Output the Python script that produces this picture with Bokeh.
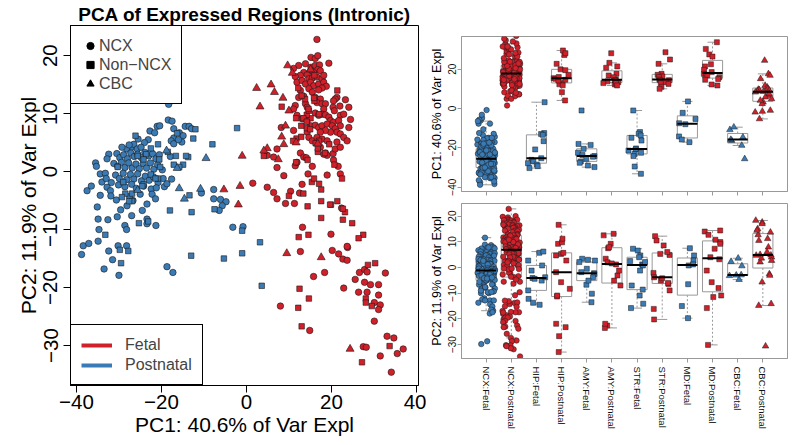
import numpy as np
from bokeh.plotting import figure
from bokeh.layouts import row, column
from bokeh.models import Range1d, FixedTicker, Legend, LegendItem, ColumnDataSource
from bokeh.transform import jitter
from bokeh.embed import file_html
from bokeh.resources import INLINE

FONT = "Liberation Sans"
RED = "#D2202A"
BLUE = "#3A7BB5"
EDGE = "#1a1a1a"
GRAY = "#999999"

# ---------------- data (PC1, PC2 per sample, by group) ----------------
ncx_fetal = [
    (-18.3, 11.6), (-18.4, 8.9), (-17.5, 8.7), (-21.0, 7.8), (-20.4, 7.9), (-22.7, 7.0), (-21.6, 6.7),
    (-23.1, 5.5), (-25.5, 5.6), (-24.0, 5.0), (-17.1, 7.4), (-14.4, 7.8), (-13.5, 7.8), (-12.9, 7.4),
    (-15.8, 6.7), (-14.9, 6.2), (-17.1, 5.8), (-17.7, 5.3), (-15.2, 5.1), (-17.1, 4.8), (-16.0, 5.5),
    (-27.1, 4.2), (-28.2, 3.9), (-29.3, 4.2), (-26.5, 4.7), (-27.6, 4.6), (-25.7, 3.9), (-24.8, 4.2),
    (-32.4, 3.0), (-32.8, 2.2), (-35.5, 1.5), (-35.3, 0.9), (-34.4, -0.4), (-33.2, -0.3),
    (-30.5, 3.1), (-29.8, 2.4), (-28.9, 2.9), (-28.0, 2.2), (-27.2, 3.2), (-26.4, 2.6), (-25.6, 3.0),
    (-24.7, 2.4), (-23.9, 3.3), (-23.0, 2.7), (-22.1, 3.1), (-21.3, 2.2), (-20.5, 2.9),
    (-31.2, 1.4), (-30.3, 0.9), (-29.4, 1.6), (-28.6, 0.7), (-27.7, 1.5), (-26.9, 0.6), (-26.0, 1.3),
    (-25.2, 0.5), (-24.3, 1.4), (-23.5, 0.6), (-22.6, 1.5), (-21.8, 0.4), (-20.9, 1.2), (-19.8, 0.3),
    (-30.8, -0.6), (-29.9, -1.2), (-29.0, -0.3), (-28.2, -1.4), (-27.3, -0.5), (-26.5, -1.3), (-25.6, -0.4),
    (-24.7, -1.6), (-23.8, -0.8), (-22.9, -1.5), (-21.9, -0.9), (-20.8, -1.9), (-19.6, -1.2),
    (-31.8, -1.9), (-30.1, -2.3), (-28.6, -2.6), (-27.0, -2.2), (-25.9, -2.9), (-24.2, -2.5), (-22.4, -3.0),
    (-21.2, -2.8), (-19.3, -2.6), (-18.7, -2.1), (-17.6, -1.3), (-17.9, 2.6),
    (-37.5, -3.3), (-36.5, -2.5), (-34.4, -4.1), (-34.0, -1.8), (-32.8, -2.7), (-32.0, -3.3), (-33.0, -1.2),
    (-22.2, -3.9), (-21.4, -4.7), (-10.6, -3.7), (-7.7, -3.1), (-7.7, -4.7), (-6.1, -4.8), (-4.8, -5.2),
    (-5.7, -5.9), (-6.4, -6.7), (-35.1, -6.1), (-30.6, -4.9), (-29.6, -6.6), (-28.1, -5.9), (-26.7, -5.0),
    (-24.5, -6.7), (-23.4, -5.6), (-31.9, -4.2), (-27.5, -4.3), (-25.0, -3.9),
    (-34.9, -8.2), (-32.6, -8.3), (-23.4, -8.2), (-30.4, -7.8), (-27.0, -7.6),
    (-34.7, -10.0), (-28.6, -9.3), (-28.2, -10.0), (-23.4, -9.0), (-21.3, -9.3),
    (-34.9, -12.0), (-38.4, -12.8), (-37.1, -12.4), (-38.8, -14.3), (-32.4, -13.7), (-30.2, -12.8),
    (-28.2, -12.8), (-31.5, -15.2), (-33.5, -16.8), (-30.0, -17.9), (-18.7, -16.4), (-17.3, -17.4),
    (-3.2, -9.6), (-0.8, -9.5), (-14.9, -29.8), (-12.5, -28.7),
]

ncx_postnatal = [
    (16.6, 22.8), (15.2, 19.7), (16.2, 19.5), (16.8, 20.0), (19.4, 18.7), (13.9, 18.6), (12.3, 18.3),
    (11.1, 17.8), (15.2, 18.0), (16.2, 18.3), (17.2, 18.4), (16.8, 17.6), (15.1, 17.4), (15.8, 17.1),
    (17.4, 17.4), (13.5, 17.1), (14.3, 16.7), (12.7, 16.6), (11.5, 16.4), (14.7, 16.0), (15.5, 16.1),
    (16.6, 16.3), (17.8, 16.0), (18.2, 16.6), (11.9, 15.4), (13.1, 15.7), (13.9, 15.1), (15.1, 15.4),
    (15.8, 14.8), (17.0, 15.1), (18.2, 15.4), (18.8, 14.7), (17.8, 14.4), (12.7, 14.0), (14.7, 14.3),
    (15.5, 13.7), (17.0, 14.1), (12.3, 12.8), (13.5, 13.0), (16.2, 12.8), (17.4, 12.5), (16.6, 11.9),
    (17.8, 11.7), (21.3, 12.8), (20.9, 12.5), (20.5, 12.2), (11.5, 11.4), (13.9, 11.7), (14.3, 11.1),
    (18.6, 11.7), (18.2, 10.8), (20.4, 11.1), (22.0, 11.3), (20.7, 10.5), (22.1, 9.7), (11.9, 9.7),
    (13.1, 9.1), (14.3, 8.8), (16.2, 10.1), (17.0, 9.7), (17.8, 9.9), (18.6, 9.8), (19.4, 9.4),
    (19.8, 8.8), (20.5, 8.5), (21.7, 8.8), (22.1, 7.9), (15.1, 7.9), (16.2, 8.0), (17.0, 7.6),
    (17.8, 7.9), (19.0, 8.2), (20.2, 7.9), (20.9, 7.4), (21.3, 6.8), (22.1, 6.5), (22.9, 5.9),
    (19.8, 6.8), (18.6, 7.1), (17.4, 6.8), (14.3, 6.8), (14.7, 5.9), (15.5, 5.3), (16.6, 5.9),
    (17.8, 5.6), (19.0, 5.3), (11.1, 7.1), (23.3, 12.4), (24.1, 11.1), (24.5, 9.0), (22.9, 9.9),
    (24.1, 7.6), (23.7, 5.3), (12.7, 3.2), (13.5, 2.5), (14.1, 2.4), (18.6, 3.2), (19.0, 2.8),
    (20.4, 3.1), (20.9, 3.9), (22.1, 4.2), (21.3, 5.1), (17.4, 4.2), (18.2, 3.0), (11.5, 1.0),
    (15.5, 0.9), (21.6, 0.9), (19.0, -0.6), (13.1, -2.2), (10.4, -3.4), (12.5, -3.7), (11.3, -5.5),
    (22.4, -6.3), (13.2, -9.6), (19.9, -10.8), (12.7, -13.8), (20.2, -13.6), (21.7, -14.2),
    (23.8, -13.1), (22.7, -15.1), (23.7, -15.3), (1.5, -2.0), (4.9, 2.8), (8.2, 7.6), (11.1, 10.8),
    (7.2, 3.9), (6.4, 2.5), (7.2, 0.7), (8.8, -0.7), (4.9, -2.7), (6.4, -3.6), (7.2, -4.7),
    (9.2, -5.5), (11.9, 1.6), (14.5, -0.4), (22.1, -0.4), (20.5, 2.0), (23.7, -12.9),
    (15.8, -18.1), (18.4, -17.4), (25.6, -18.6), (26.6, -17.4), (27.8, -16.9), (28.4, -17.3),
    (32.7, -17.5), (22.9, -20.1), (27.8, -19.1), (29.2, -19.5), (28.4, -20.8), (31.1, -19.5),
    (26.4, -20.8), (31.1, -21.3), (30.1, -22.6), (31.5, -23.0), (31.1, -23.8), (30.1, -25.8),
    (14.9, -27.4), (33.1, -28.4), (34.7, -28.7), (27.5, -30.2), (28.2, -30.3), (31.5, -31.8),
    (35.5, -31.4), (36.9, -30.6), (34.1, -34.6), (8.0, -23.2),
]

hip_fetal_pc1 = [3.2, -12.5, -13.0, -13.4, -16.6, -20.8, -25.3, -26.1, -26.9, -27.8, -28.5, -29.3, -30.3]
hip_fetal_pc2 = [-12.2, 5.7, -14.5, -4.1, 2.7, -1.2, -8.9, 6.2, -5.1, -13.7, -3.8, -4.4, 0.8]

hip_post_pc1 = [27.2, 29.5, 28.1, 13.0, 12.3, 22.7, 14.6, 19.9, 15.4, 4.1, 19.5, 17.1, 11.8, 15.1, 14.2, 8.3, 16.0]
hip_post_pc2 = [-32.9, -23.2, -21.9, -26.7, -11.3, -8.3, -10.9, -5.7, -1.8, 2.7, 4.7, 5.3, 5.7, 9.2, 9.8, 11.2, 16.6]

amy_fetal_pc1 = [-1.0, -18.0, -18.5, -20.5, -22.5, -23.6, -24.2, -24.5, -25.6, -26.9, -27.6, -29.0, -29.8]
amy_fetal_pc2 = [-10.2, -6.7, 3.4, 2.1, -0.5, 3.0, -2.2, -2.5, 2.7, -3.8, -5.1, -1.8, -13.5]

amy_post_pc1 = [28.1, 12.2, 14.7, 23.2, 21.4, 20.7, 17.6, 16.8, 15.9, 14.4, 14.2, 13.8, 13.4, 13.0, 12.9, 11.7]
amy_post_pc2 = [-22.6, -23.5, -21.9, -7.0, -5.1, 1.2, -3.1, 3.4, -1.2, 2.0, 7.5, 12.5, 9.2, 13.1, 7.9, 1.6]

str_fetal_pc1 = [-1.0, -12.0, -12.9, -13.7, -14.9, -16.3, -20.3, -20.8, -21.4, -22.5, -23.1, -24.2, -29.5, -33.2]
str_fetal_pc2 = [-14.1, 7.3, -7.0, 2.5, 1.2, 6.6, 0.8, 4.7, -1.2, 4.0, -8.6, 2.1, -15.8, -10.9]

str_post_pc1 = [28.6, 24.9, 22.7, 17.6, 17.1, 16.3, 16.0, 14.7, 14.4, 14.2, 13.4, 12.9, 12.5, 11.0, 10.0]
str_post_pc2 = [-16.1, -8.9, -6.4, -5.1, -2.1, 4.9, 12.2, 10.5, -6.0, 8.6, -3.8, 6.0, -20.2, 5.3, -4.2]

md_fetal_pc1 = [3.6, -2.2, -5.3, -7.5, -8.0, -14.2, -15.8, -17.1]
md_fetal_pc2 = [-19.7, 7.5, -15.0, -6.5, 4.7, 2.7, 0.8, 1.2]

md_post_pc1 = [33.7, 30.3, 27.5, 26.4, 22.5, 21.4, 19.7, 18.5, 17.6, 17.1, 16.8, 15.9, 15.0, 14.6, 12.2, 11.7]
md_post_pc2 = [-30.1, -15.8, -10.9, -11.5, -1.2, 14.0, -5.7, 3.2, -8.0, 9.9, 4.0, 12.7, 7.3, 10.8, 14.4, 9.2]

cbc_fetal_pc1 = [-18.8, -16.3, -15.8, -10.8, -14.6, -9.5, -25.6]
cbc_fetal_pc2 = [3.6, 0.6, -2.9, -3.0, -4.7, 2.3, -3.2]

cbc_post_pc1 = [24.4, 17.6, 16.8, 15.1, 11.7, 10.8, 10.0, 9.7, 9.5, 9.2, 8.8, 8.6, 8.3, 6.6, 5.8, 3.2,
                2.4, 7.5, 4.9, 4.1, -1.0, -1.5, -1.9, -5.3]
cbc_post_pc2 = [-30.6, -14.8, 4.8, 17.6, 5.0, 17.0, 10.5, 18.3, -14.1, 7.9, 4.7, 12.7, 6.0, 13.7, 15.0, 11.2,
                14.4, 2.1, 4.0, 3.6, 2.7, -2.5, -5.7, -3.1]

group_labels = ["NCX:Fetal", "NCX:Postnatal", "HIP:Fetal", "HIP:Postnatal", "AMY:Fetal", "AMY:Postnatal",
                "STR:Fetal", "STR:Postnatal", "MD:Fetal", "MD:Postnatal", "CBC:Fetal", "CBC:Postnatal"]

x_ticks_left = [-40, -20, 0, 20, 40]
y_ticks_left = [-30, -20, -10, 0, 10, 20]
y_ticks_pc1 = [-40, -20, 0, 20]
y_ticks_pc2 = [-30, -20, -10, 0, 10, 20]

# ---------------- assemble groups ----------------
group_pc1 = [[a for a, b in ncx_fetal], [a for a, b in ncx_postnatal], hip_fetal_pc1, hip_post_pc1,
             amy_fetal_pc1, amy_post_pc1, str_fetal_pc1, str_post_pc1, md_fetal_pc1, md_post_pc1,
             cbc_fetal_pc1, cbc_post_pc1]
group_pc2 = [[b for a, b in ncx_fetal], [b for a, b in ncx_postnatal], hip_fetal_pc2, hip_post_pc2,
             amy_fetal_pc2, amy_post_pc2, str_fetal_pc2, str_post_pc2, md_fetal_pc2, md_post_pc2,
             cbc_fetal_pc2, cbc_post_pc2]
group_color = [BLUE if i % 2 == 0 else RED for i in range(12)]
group_marker = ["circle", "circle"] + ["square"] * 8 + ["triangle", "triangle"]
size_left = {"circle": 6.5, "square": 5.5, "triangle": 8}
size_right = {"circle": 5.5, "square": 5, "triangle": 6.5}


def lab(v):
    return ("\u2212" + str(abs(v))) if v < 0 else str(v)


# ---------------- left scatter ----------------
left = figure(width=426, height=444, x_range=Range1d(-41.4, 40.5), y_range=Range1d(-36.9, 25.2),
              output_backend="svg", toolbar_location=None,
              min_border_left=70, min_border_right=8, min_border_top=25, min_border_bottom=59)
left.grid.visible = False
left.outline_line_color = "black"
left.outline_line_alpha = 1
left.background_fill_color = "white"

left.title.text = "PCA of Expressed Regions (Intronic)"
left.title.align = "center"
left.title.text_font = FONT
left.title.text_font_size = "19px"
left.title.text_font_style = "bold"
left.title.text_color = "black"
left.title.standoff = 1
left.title.offset = -3

for i in range(12):
    src = ColumnDataSource(dict(x=group_pc1[i], y=group_pc2[i]))
    left.scatter(x="x", y="y", source=src, marker=group_marker[i], size=size_left[group_marker[i]],
                 fill_color=group_color[i], line_color=EDGE, line_width=0.6)

for ax in (left.xaxis[0], left.yaxis[0]):
    ax.axis_line_color = "black"
    ax.major_tick_line_color = "black"
    ax.minor_tick_line_color = None
    ax.major_tick_out = 7
    ax.major_tick_in = 0
    ax.major_label_text_font = FONT
    ax.major_label_text_font_size = "20.5px"
    ax.major_label_text_color = "black"
    ax.axis_label_text_font = FONT
    ax.axis_label_text_font_size = "21px"
    ax.axis_label_text_font_style = "normal"
    ax.axis_label_text_color = "black"

left.xaxis.ticker = FixedTicker(ticks=x_ticks_left)
left.xaxis.major_label_overrides = {v: lab(v) for v in x_ticks_left}
left.xaxis.axis_label = "PC1: 40.6% of Var Expl"
left.xaxis.major_label_standoff = 2
left.xaxis.axis_label_standoff = 1
left.yaxis.ticker = FixedTicker(ticks=y_ticks_left)
left.yaxis.major_label_overrides = {v: lab(v) for v in y_ticks_left}
left.yaxis.major_label_orientation = "vertical"
left.yaxis.axis_label = "PC2: 11.9% of Var Expl"
left.yaxis.major_label_standoff = 6
left.yaxis.axis_label_standoff = 1

nan = [float("nan")]
lg_c = left.scatter(x=nan, y=nan, marker="circle", color="black")
lg_s = left.scatter(x=nan, y=nan, marker="square", color="black")
lg_t = left.scatter(x=nan, y=nan, marker="triangle", color="black")
leg1 = Legend(items=[LegendItem(label="NCX", renderers=[lg_c]),
                     LegendItem(label="Non\u2212NCX", renderers=[lg_s]),
                     LegendItem(label="CBC", renderers=[lg_t])],
              location="top_left", margin=0, padding=10, spacing=0, glyph_width=18, glyph_height=19,
              label_height=19, label_standoff=0, label_width=66, label_text_font=FONT,
              label_text_font_size="16px", border_line_color="black", border_line_width=1,
              border_line_alpha=1, background_fill_color="white", background_fill_alpha=1)
left.add_layout(leg1)

lg_r = left.line(x=nan, y=nan, line_color=RED, line_width=4)
lg_b = left.line(x=nan, y=nan, line_color=BLUE, line_width=4)
leg2 = Legend(items=[LegendItem(label="Fetal", renderers=[lg_r]),
                     LegendItem(label="Postnatal", renderers=[lg_b])],
              location="bottom_left", margin=0, padding=10, spacing=1, glyph_width=31, glyph_height=14,
              label_standoff=13, label_height=19, label_text_font=FONT, label_text_font_size="16px",
              border_line_color="black", border_line_width=1, border_line_alpha=1,
              background_fill_color="white", background_fill_alpha=1)
left.add_layout(leg2)


# ---------------- right box panels ----------------
def box_stats(v):
    x = np.sort(np.asarray(v, float))
    n = len(x)
    n4 = np.floor((n + 3) / 2) / 2
    d = np.array([1, n4, (n + 1) / 2, n + 1 - n4, n])
    fn = 0.5 * (x[np.floor(d).astype(int) - 1] + x[np.ceil(d).astype(int) - 1])
    iqr = fn[3] - fn[1]
    lo = x[x >= fn[1] - 1.5 * iqr].min()
    hi = x[x <= fn[3] + 1.5 * iqr].max()
    return lo, fn[1], fn[2], fn[3], hi


def panel(values, yr, yticks, ylabel, height, top, bottom, show_x):
    p = figure(width=364, height=height, x_range=Range1d(0.02, 12.98), y_range=Range1d(*yr),
               output_backend="svg", toolbar_location=None,
               min_border_left=32, min_border_right=3, min_border_top=top, min_border_bottom=bottom)
    p.grid.visible = False
    p.outline_line_color = GRAY
    p.outline_line_alpha = 1
    xs = list(range(1, 13))
    stats = [box_stats(v) for v in values]
    lo, q1, med, q3, hi = map(list, zip(*stats))
    src = ColumnDataSource(dict(x=xs, lo=lo, q1=q1, med=med, q3=q3, hi=hi,
                                l=[i - 0.4 for i in xs], r=[i + 0.4 for i in xs],
                                cl=[i - 0.2 for i in xs], cr=[i + 0.2 for i in xs]))
    p.segment(x0="x", y0="q3", x1="x", y1="hi", source=src, line_color=GRAY, line_dash="2 2")
    p.segment(x0="x", y0="q1", x1="x", y1="lo", source=src, line_color=GRAY, line_dash="2 2")
    p.segment(x0="cl", y0="hi", x1="cr", y1="hi", source=src, line_color=GRAY)
    p.segment(x0="cl", y0="lo", x1="cr", y1="lo", source=src, line_color=GRAY)
    p.quad(left="l", right="r", bottom="q1", top="q3", source=src, fill_color="white", line_color=GRAY)
    for i, v in enumerate(values):
        s = ColumnDataSource(dict(x=[i + 1] * len(v), y=v))
        p.scatter(x=jitter("x", width=0.7, distribution="uniform"), y="y", source=s,
                  marker=group_marker[i], size=size_right[group_marker[i]],
                  fill_color=group_color[i], line_color=EDGE, line_width=0.5)
    p.segment(x0="l", y0="med", x1="r", y1="med", source=src, line_color="black", line_width=2)

    ya = p.yaxis[0]
    ya.ticker = FixedTicker(ticks=yticks)
    ya.major_label_overrides = {v: lab(v) for v in yticks}
    ya.major_label_orientation = "vertical"
    ya.axis_label = ylabel
    ya.axis_label_text_font = FONT
    ya.axis_label_text_font_size = "12.5px"
    ya.axis_label_text_font_style = "normal"
    ya.axis_label_text_color = "black"
    ya.axis_label_standoff = 2
    ya.major_label_standoff = 1
    xa = p.xaxis[0]
    xa.ticker = FixedTicker(ticks=xs)
    if show_x:
        xa.major_label_overrides = {i + 1: g for i, g in enumerate(group_labels)}
        xa.major_label_orientation = "vertical"
        xa.major_label_text_font_size = "9.5px"
        xa.major_label_standoff = 4
    else:
        xa.major_label_overrides = {i + 1: "" for i in range(12)}
        xa.major_label_text_font_size = "0px"
        xa.major_label_standoff = 0
    for ax in (xa, ya):
        ax.axis_line_color = GRAY
        ax.major_tick_line_color = GRAY
        ax.minor_tick_line_color = None
        ax.major_tick_out = 4
        ax.major_tick_in = 0
        ax.major_label_text_font = FONT
        ax.major_label_text_color = "#111111"
    ya.major_label_text_font_size = "10px"
    return p


top_panel = panel(group_pc1, (-42.2, 36.6), y_ticks_pc1, "PC1: 40.6% of Var Expl", 197, 36, 6, False)
bottom_panel = panel(group_pc2, (-35.4, 24.9), y_ticks_pc2, "PC2: 11.9% of Var Expl", 247, 6, 86, True)

layout = row(left, column(top_panel, bottom_panel))
open("out.html", "w").write(file_html(layout, INLINE))
